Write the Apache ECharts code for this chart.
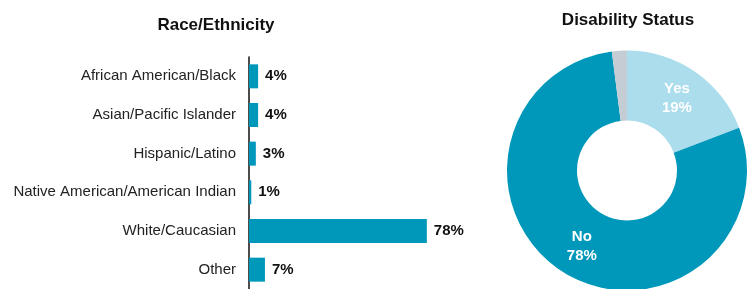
<!DOCTYPE html>
<html>
<head>
<meta charset="utf-8">
<script src="https://cdn.jsdelivr.net/npm/echarts@6/dist/echarts.min.js"></script>
<style>
  html, body { margin: 0; padding: 0; background: #fff; }
  #main { width: 749px; height: 289px; }
</style>
</head>
<body>
<div id="main"></div>
<script>
// race / ethnicity bars (top to bottom)
var raceCats = ['African American/Black', 'Asian/Pacific Islander', 'Hispanic/Latino',
  'Native American/American Indian', 'White/Caucasian', 'Other'];
var raceVals = [4, 4, 3, 1, 78, 7];

// disability donut
var disNames = ['Yes', 'No', 'Not reported'];
var disVals = [19, 78, 2];

var chart = echarts.init(document.getElementById('main'), null, { renderer: 'canvas' });

var font = 'Liberation Sans, Arial, sans-serif';

var option = {
  animation: false,
  backgroundColor: '#ffffff',
  textStyle: { fontFamily: font },
  title: [
    {
      text: 'Race/Ethnicity',
      left: 211, top: 12,
      textAlign: 'center',
      textStyle: { fontSize: 17, fontWeight: 'bold', color: '#111', fontFamily: font }
    },
    {
      text: 'Disability Status',
      left: 623, top: 7,
      textAlign: 'center',
      textStyle: { fontSize: 17, fontWeight: 'bold', color: '#111', fontFamily: font }
    }
  ],
  grid: {
    left: 249,
    top: 57,
    width: 228,
    height: 232
  },
  xAxis: {
    type: 'value',
    min: 0,
    max: 100,
    show: false
  },
  yAxis: {
    type: 'category',
    inverse: true,
    data: raceCats,
    axisTick: { show: false },
    axisLine: { lineStyle: { color: '#111', width: 1.5 } },
    axisLabel: { color: '#222', fontSize: 15, margin: 13, fontFamily: font }
  },
  series: [
    {
      type: 'bar',
      data: raceVals,
      barWidth: 24,
      itemStyle: { color: '#0098ba' },
      label: {
        show: true,
        position: 'right',
        distance: 7,
        formatter: '{c}%',
        fontSize: 15,
        fontWeight: 'bold',
        color: '#111',
        fontFamily: font
      }
    },
    {
      type: 'pie',
      center: [627, 170.5],
      radius: [50, 120],
      startAngle: 90,
      clockwise: true,
      data: disNames.map(function (n, i) {
        return { name: n, value: disVals[i] };
      }),
      color: ['#acdded', '#0098ba', '#c4ccd4'],
      label: {
        show: true,
        position: 'inside',
        formatter: function (p) {
          return p.dataIndex === 2 ? '' : p.name + '\n' + p.value + '%';
        },
        fontSize: 15,
        fontWeight: 'bold',
        lineHeight: 19,
        color: '#fff',
        fontFamily: font
      },
      labelLine: { show: false },
      emphasis: { disabled: true }
    }
  ]
};

chart.setOption(option);
</script>
</body>
</html>
